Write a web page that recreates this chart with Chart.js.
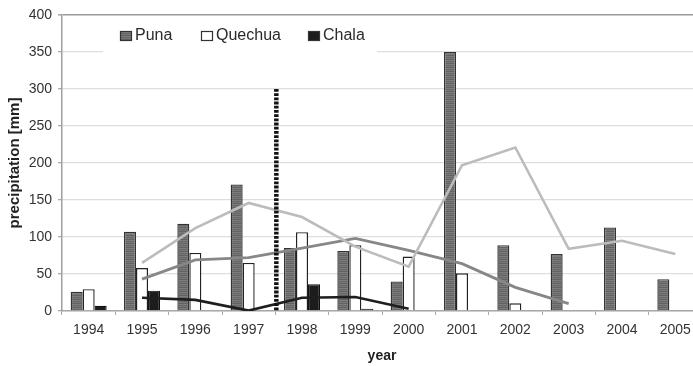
<!DOCTYPE html>
<html>
<head>
<meta charset="utf-8">
<script src="https://cdn.jsdelivr.net/npm/chart.js@4/dist/chart.umd.min.js"></script>
<style>
  html, body { margin: 0; padding: 0; background: #fff; overflow: hidden; }
  #wrap { width: 693px; height: 366px; overflow: hidden; }
  canvas { display: block; }
</style>
</head>
<body>
<div id="wrap"><canvas id="c" width="703" height="366"></canvas></div>
<script>
// Annual precipitation by altitude zone
const years = ['1994', '1995', '1996', '1997', '1998', '1999', '2000', '2001', '2002', '2003', '2004', '2005'];
const puna    = [26, 107, 118, 171, 85, 81, 40, 350, 89, 77, 113, 43];
const quechua = [29.5, 58, 78.5, 65, 106.5, 89, 73.5, 51, 10.5, null, null, null];
const chala   = [7, 27.5, null, null, 36, 3, null, null, null, null, null, null];

// Trend lines
const lineLight = [null, 65, 112, 146, 127, 87, 60, 197, 221, 84, 95, 77];
const lineMid   = [null, 43, 69, 72, 85, 98, 82, 64, 32, 10, null, null];
const lineDark  = [null, 18, 15, 0.5, 18, 19, 3, null, null, null, null, null];

const yTicks = [0, 50, 100, 150, 200, 250, 300, 350, 400];

// Dotted divider between two years, from 0 up to this value
const dividerYears = ['1997', '1998'];
const dividerTop = 300;

const FONT = "'Liberation Sans', Arial, Helvetica, sans-serif";

// Striped fill for the Puna bars
function stripes() {
  const p = document.createElement('canvas');
  p.width = 4; p.height = 4;
  const g = p.getContext('2d');
  const rows = ['#7c7c7c', '#686868', '#777777', '#626262'];
  rows.forEach((c, i) => { g.fillStyle = c; g.fillRect(0, i, 4, 1); });
  return g.createPattern(p, 'repeat');
}
const punaFill = stripes();

const legendPlugin = {
  id: 'insideLegend',
  beforeDatasetsDraw(chart) {
    const ctx = chart.ctx;
    ctx.save();
    ctx.fillStyle = '#ffffff';
    ctx.fillRect(103, 18, 274, 44);
    ctx.restore();
  },
  afterDatasetsDraw(chart) {
    const ctx = chart.ctx;
    const {x, y} = chart.scales;
    // dotted divider
    const i0 = years.indexOf(dividerYears[0]);
    const i1 = years.indexOf(dividerYears[1]);
    const dx = (x.getPixelForValue(i0) + x.getPixelForValue(i1)) / 2 + 1;
    ctx.save();
    ctx.strokeStyle = '#111';
    ctx.lineWidth = 4.5;
    ctx.setLineDash([2.8, 1.4]);
    ctx.beginPath();
    ctx.moveTo(dx, y.getPixelForValue(dividerTop));
    ctx.lineTo(dx, y.getPixelForValue(0));
    ctx.stroke();
    ctx.restore();

    // legend entries
    const items = [
      {ds: 2, bx: 120, tx: 135},
      {ds: 3, bx: 201, tx: 216},
      {ds: 4, bx: 308, tx: 323}
    ];
    ctx.save();
    ctx.font = '16px ' + FONT;
    ctx.textBaseline = 'middle';
    ctx.textAlign = 'left';
    items.forEach(it => {
      const d = chart.data.datasets[it.ds];
      ctx.fillStyle = d.backgroundColor;
      ctx.fillRect(it.bx, 31, 12, 10);
      ctx.strokeStyle = '#333';
      ctx.lineWidth = 1.2;
      ctx.strokeRect(it.bx + 0.5, 31.5, 11, 9);
      ctx.fillStyle = '#2a2a2a';
      ctx.fillText(d.label, it.tx, 36);
    });
    ctx.restore();
  }
};

new Chart(document.getElementById('c'), {
  type: 'bar',
  data: {
    labels: years,
    datasets: [
      { type: 'line', label: 'trend light', data: lineLight, borderColor: '#bcbcbc', borderWidth: 2.6, pointRadius: 0, tension: 0, fill: false, order: 0 },
      { type: 'line', label: 'trend mid', data: lineMid, borderColor: '#878787', borderWidth: 2.8, pointRadius: 0, tension: 0, fill: false, order: 0 },
      { label: 'Puna', data: puna, backgroundColor: punaFill, borderColor: '#333', borderWidth: 1.4, order: 2 },
      { label: 'Quechua', data: quechua, backgroundColor: '#ffffff', borderColor: '#222', borderWidth: 1.4, order: 2 },
      { label: 'Chala', data: chala, backgroundColor: '#1c1c1c', borderColor: '#111', borderWidth: 1.2, order: 2 },
      { type: 'line', label: 'trend dark', data: lineDark, borderColor: '#1e1e1e', borderWidth: 2.6, pointRadius: 0, tension: 0, fill: false, order: 0 }
    ]
  },
  options: {
    responsive: false,
    animation: false,
    devicePixelRatio: 1,
    layout: { padding: { top: 15, right: 1, bottom: 0, left: 0 } },
    plugins: { legend: { display: false }, tooltip: { enabled: false } },
    datasets: { bar: { categoryPercentage: 0.675, barPercentage: 1.0 } },
    scales: {
      x: {
        grid: { drawOnChartArea: false, drawTicks: true, tickLength: 4, tickColor: '#aaa' },
        border: { color: '#a8a8a8', width: 1.5 },
        ticks: { font: { family: FONT, size: 14 }, color: '#333', padding: 7, maxRotation: 0 },
        title: { display: true, text: 'year', font: { family: FONT, size: 14, weight: 'bold' }, color: '#222', padding: { top: 0, bottom: 1 } },
        afterFit(s) { s.height = 55; }
      },
      y: {
        min: 0, max: 400,
        afterBuildTicks(s) { s.ticks = yTicks.map(v => ({ value: v })); },
        grid: {
          color: ctx => (ctx.tick && ctx.tick.value === 400) ? '#9a9a9a' : '#dedede',
          lineWidth: ctx => (ctx.tick && ctx.tick.value === 400) ? 1.6 : 1.3,
          tickLength: 4, tickColor: '#aaa'
        },
        border: { color: '#a0a0a0', width: 1.5 },
        ticks: { font: { family: FONT, size: 14 }, color: '#333', padding: 6 },
        title: { display: true, text: 'precipitation [mm]', font: { family: FONT, size: 15, weight: 'bold' }, color: '#222', padding: { top: 6, bottom: 0 } },
        afterFit(s) { s.width = 62; }
      }
    }
  },
  plugins: [legendPlugin]
});
</script>
</body>
</html>
